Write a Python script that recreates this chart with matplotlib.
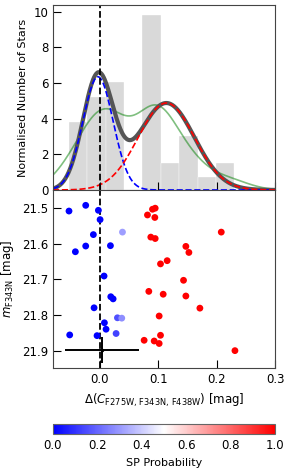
"""
Distribucion de Delta C y magnitud F343N con probabilidad de pertenencia a SP.
"""

import numpy as np
import matplotlib.pyplot as plt

# --- Datos ---
# Estrellas: Delta(C_F275W,F343N,F438W), m_F343N y probabilidad SP
delta_c = [-0.0526, -0.0240, -0.0023, 0.0006, -0.0109, -0.0240, -0.0417, 0.0183,
           0.0074, 0.0189, 0.0229, -0.0097, 0.0080, 0.0108, -0.0514, -0.0046,
           0.0389, 0.0303, 0.0377, 0.0280,
           0.0949, 0.0903, 0.0817, 0.0943, 0.0874, 0.0949, 0.2080, 0.1474,
           0.1526, 0.1154, 0.1040, 0.1434, 0.0840, 0.1086, 0.1474, 0.1714,
           0.1017, 0.1040, 0.0760, 0.0932, 0.1017, 0.2314]
mag_f343n = [21.509, 21.493, 21.507, 21.533, 21.575, 21.607, 21.623, 21.606,
             21.691, 21.749, 21.755, 21.780, 21.822, 21.840, 21.856, 21.858,
             21.568, 21.808, 21.809, 21.852,
             21.501, 21.504, 21.520, 21.527, 21.582, 21.586, 21.568, 21.608,
             21.625, 21.648, 21.657, 21.703, 21.734, 21.742, 21.747, 21.781,
             21.803, 21.857, 21.871, 21.873, 21.880, 21.900]
prob_sp = [0.0] * 16 + [0.31, 0.16, 0.28, 0.13] + [1.0] * 22

# Histograma (bordes de los bins y numero de estrellas por bin)
bin_edges = [-0.0531, -0.0217, 0.0103, 0.0417, 0.0731, 0.1046,
             0.1360, 0.1674, 0.1989, 0.2303]
bin_counts = [5, 7, 8, 0, 13, 2, 4, 1, 2]

# Ajuste de dos gaussianas: (amplitud, media, sigma)
fit_fp = (6.35, -0.003, 0.026)
fit_sp = (4.88, 0.114, 0.048)

# Barra de error tipica
err_x, err_y = 0.0035, 21.898
err_dx, err_dy = 0.0635, 0.036


def gauss(x, amp, mu, sig):
    return amp * np.exp(-(x - mu) ** 2 / (2 * sig ** 2))


def kde(x, datos):
    datos = np.asarray(datos)
    h = datos.std(ddof=1) * len(datos) ** (-1 / 5)
    z = (x[:, None] - datos[None, :]) / h
    return np.exp(-0.5 * z ** 2).sum(axis=1) / (len(datos) * h * np.sqrt(2 * np.pi))


fig = plt.figure(figsize=(2.91, 4.74), dpi=100)
ax1 = fig.add_axes([0.1821, 0.5992, 0.763, 0.3903])
ax2 = fig.add_axes([0.1821, 0.2226, 0.763, 0.3766], sharex=ax1)
cax = fig.add_axes([0.1821, 0.0838, 0.763, 0.0211])

# Panel superior: histograma normalizado y ajustes
anchos = np.diff(bin_edges)
alturas = np.array(bin_counts) / (sum(bin_counts) * anchos)
ax1.bar(bin_edges[:-1], alturas, width=anchos, align='edge',
        color='lightgray', alpha=0.85, edgecolor='white', linewidth=0.3)

xx = np.linspace(-0.08, 0.3, 400)
ax1.plot(xx, kde(xx, delta_c), color='green', alpha=0.5, lw=1.2)
ax1.plot(xx, gauss(xx, *fit_fp) + gauss(xx, *fit_sp), color='#555555', lw=3)
ax1.plot(xx, gauss(xx, *fit_fp), 'b--', lw=1.2)
ax1.plot(xx, gauss(xx, *fit_sp), 'r--', lw=1.2)
ax1.axvline(0, color='k', ls='--', lw=1.3)
ax1.set_ylim(0, 10.38)
ax1.set_yticks([0, 2, 4, 6, 8, 10])
ax1.set_ylabel('Normalised Number of Stars', fontsize=8)
ax1.tick_params(labelbottom=False)

# Panel inferior: magnitud frente a Delta C
sc = ax2.scatter(delta_c, mag_f343n, c=prob_sp, cmap='bwr', vmin=0, vmax=1,
                 s=24, edgecolors='none', zorder=3)
ax2.errorbar(err_x, err_y, xerr=err_dx, yerr=err_dy, fmt='.', color='k',
             ms=3, lw=1.4, zorder=4)
ax2.axvline(0, color='k', ls='--', lw=1.3, zorder=2)
ax2.set_xlim(-0.08, 0.3)
ax2.set_ylim(21.95, 21.45)
ax2.set_yticks([21.5, 21.6, 21.7, 21.8, 21.9])
ax2.set_xticks([0.0, 0.1, 0.2, 0.3])
ax2.set_ylabel(r'$m_{\mathrm{F343N}}$ [mag]', fontsize=8.5)
ax2.set_xlabel(r'$\Delta(C_{\mathrm{F275W,\,F343N,\,F438W}})$ [mag]', fontsize=8.5)

for ax in (ax1, ax2):
    ax.tick_params(direction='in', length=6, labelsize=8.5)
    for s in ax.spines.values():
        s.set_color('#444444')

cb = fig.colorbar(sc, cax=cax, orientation='horizontal')
cb.set_ticks([0.0, 0.2, 0.4, 0.6, 0.8, 1.0])
cb.ax.tick_params(labelsize=8.5, length=0)
cb.set_label('SP Probability', fontsize=8)
cb.outline.set_edgecolor('#666666')

fig.savefig('out.png', dpi=100)
